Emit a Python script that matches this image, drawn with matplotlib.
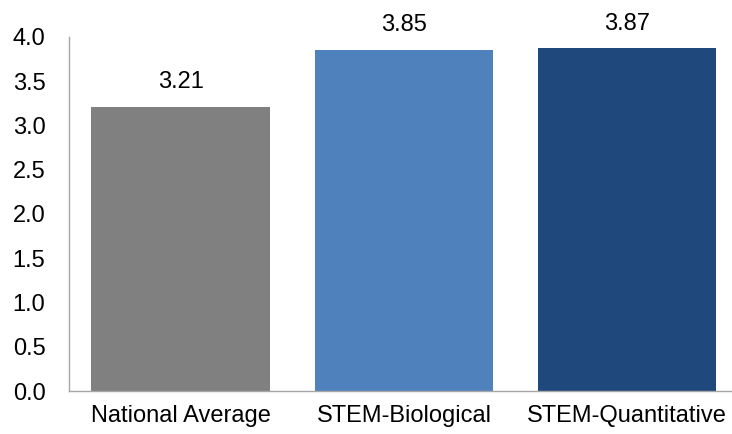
import matplotlib.pyplot as plt
import numpy as np

categories = ['National Average', 'STEM-Biological', 'STEM-Quantitative']
values = [3.21, 3.85, 3.87]
colors = ['#808080', '#4F81BD', '#1F497D']
yticks = [0.0, 0.5, 1.0, 1.5, 2.0, 2.5, 3.0, 3.5, 4.0]

plt.rcParams['font.family'] = ['Liberation Sans', 'DejaVu Sans']

fig = plt.figure(figsize=(7.32, 4.34), dpi=100)
ax = fig.add_axes([0.0943, 0.099, 0.915, 0.816])

x = np.arange(len(categories))
bars = ax.bar(x, values, width=0.8, color=colors)

for xi, v in zip(x, values):
    ax.annotate('%.2f' % v, (xi, v), xytext=(0, 10), textcoords='offset points',
                ha='center', va='bottom', fontsize=17, color='black')

ax.set_xlim(-0.5, 2.5)
ax.set_ylim(0, 4.0)
ax.set_yticks(yticks)
ax.set_yticklabels(['%.1f' % t for t in yticks])
ax.set_xticks(x)
ax.set_xticklabels(categories)
ax.tick_params(axis='y', length=0, pad=17, labelsize=17)
ax.tick_params(axis='x', length=0, pad=10, labelsize=17)

for side in ['top', 'right']:
    ax.spines[side].set_visible(False)
for side in ['left', 'bottom']:
    ax.spines[side].set_color('#A6A6A6')
    ax.spines[side].set_linewidth(1.0)

fig.savefig('out.png', dpi=100)
